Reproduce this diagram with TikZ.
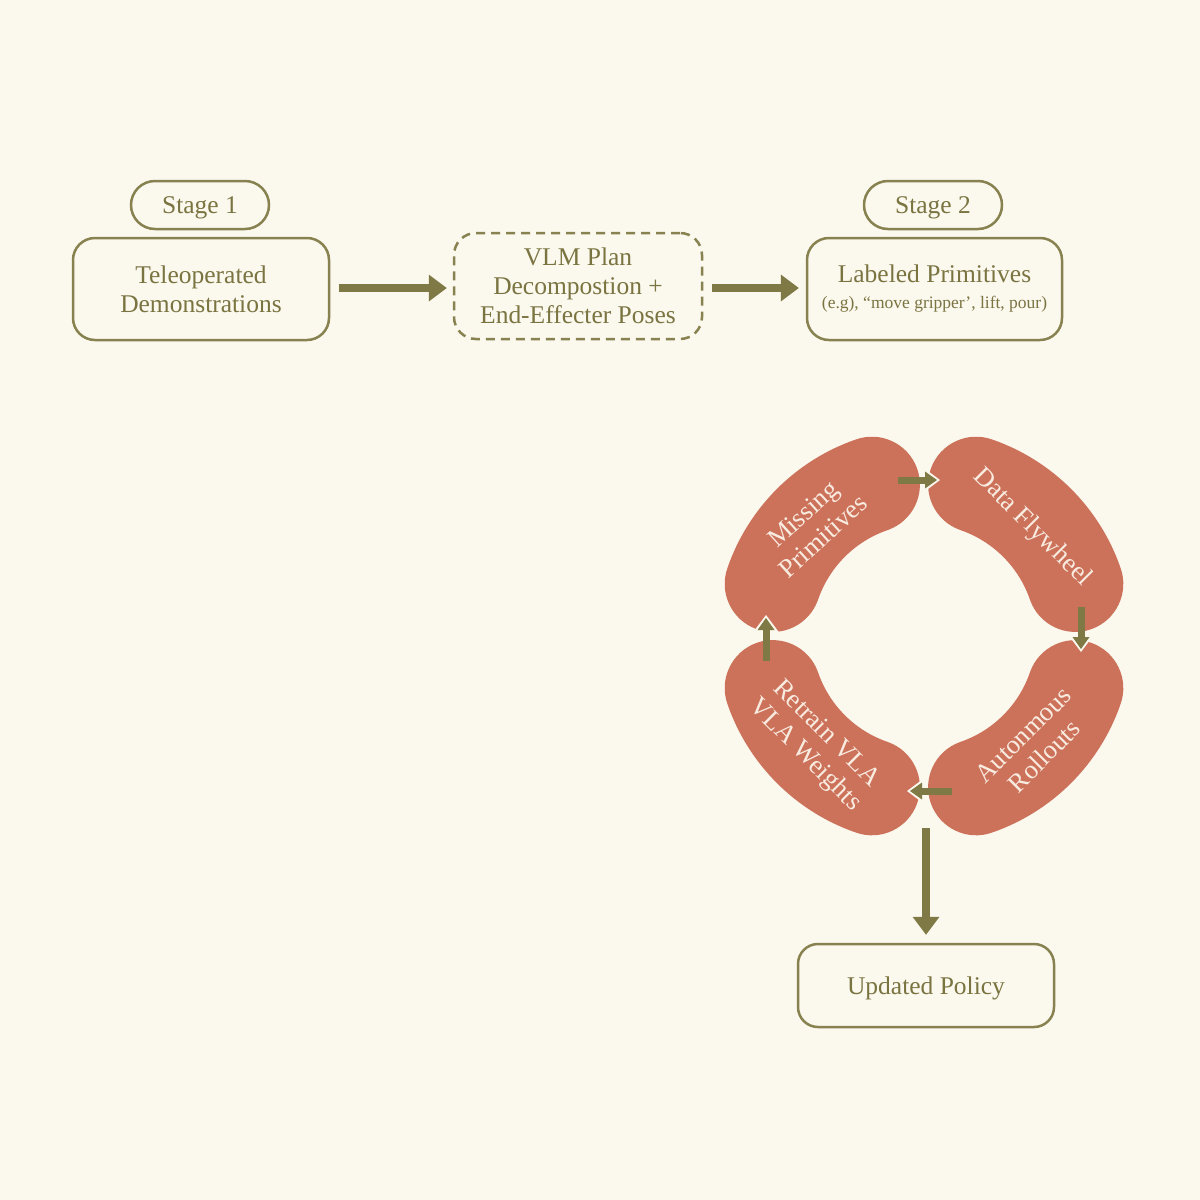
\documentclass[tikz,border=0pt]{standalone}
\usepackage{fontspec}
\setmainfont{Liberation Serif}
\usetikzlibrary{arrows.meta,calc}
\definecolor{bgc}{HTML}{FBF8EE}
\definecolor{olive}{HTML}{878250}
\definecolor{olivetext}{HTML}{7A7441}
\definecolor{arrowc}{HTML}{7F7A45}
\definecolor{beanc}{HTML}{CD725A}
\definecolor{beantext}{HTML}{F8EBE0}
\tikzset{
  box/.style={draw=olive, line width=2.5pt, rounded corners=22pt, align=center, text=olivetext, font=\fontsize{25.5}{29}\selectfont, inner sep=0pt},
  pill/.style={box, rounded corners=24pt, text height=23pt, text depth=5.6pt},
  dashbox/.style={box, dash pattern=on 9pt off 6pt},
  bigarrow/.style={arrowc, line width=8.5pt, -{Triangle[length=18pt,width=27pt,line width=0pt]}},
  cyclearrow/.style={arrowc, line width=7pt, -{Triangle[length=12pt,width=17pt,line width=0pt]}},
  halo/.style={bgc, line width=0.1pt, -{Triangle[length=18pt,width=27pt,line width=0pt]}},
  bean/.style={beanc, line width=96pt, line cap=round},
  beanlabel/.style={text=beantext, align=center, font=\fontsize{26.5}{30}\selectfont, inner sep=0pt}
}
\begin{document}
\begin{tikzpicture}[x=1pt,y=-1pt]
\useasboundingbox (0,0) rectangle (1200,1200);
\fill[bgc] (0,0) rectangle (1200,1200);

% top row
\node[pill, minimum width=138pt, minimum height=48pt] (stage1) at (200,205) {Stage 1};
\node[box, minimum width=256pt, minimum height=102pt] (tele) at (201,289) {Teleoperated\\Demonstrations};
\node[dashbox, minimum width=248pt, minimum height=106pt] (vlm) at (578,286) {VLM Plan\\Decompostion +\\End-Effecter Poses};
\node[pill, minimum width=138pt, minimum height=48pt] (stage2) at (933,205) {Stage 2};
\node[box, minimum width=255pt, minimum height=102pt] (labeled) at (934.5,289) {Labeled Primitives\\[-3pt]{\fontsize{17.5}{20}\selectfont (e.g), “move gripper’, lift, pour)}};
\node[box, minimum width=256pt, minimum height=83pt, rounded corners=20pt, text height=24pt, text depth=5.6pt] (updated) at (926,985.5) {Updated Policy};

\draw[bigarrow, shorten <=9pt, shorten >=6pt] (tele.east |- 0,288) -- (vlm.west |- 0,288);
\draw[bigarrow, shorten <=9pt, shorten >=7pt] (vlm.east |- 0,288) -- (labeled.west |- 0,288);

% cycle
\coordinate (C) at (924,636);
\draw[bean] (C) ++(199:160) arc[start angle=199, end angle=251, radius=160];
\draw[bean] (C) ++(289:160) arc[start angle=289, end angle=341, radius=160];
\draw[bean] (C) ++(19:160) arc[start angle=19, end angle=71, radius=160];
\draw[bean] (C) ++(109:160) arc[start angle=109, end angle=161, radius=160];

\node[beanlabel, rotate=42] (missing) at ($(C)+(225:157)$) {Missing\\Primitives};
\node[beanlabel, rotate=-45] (flywheel) at ($(C)+(315:153)$) {Data Flywheel};
\node[beanlabel, rotate=45] (auto) at ($(C)+(45:155)$) {Autonmous\\Rollouts};
\node[beanlabel, rotate=-45] (retrain) at ($(C)+(135:154)$) {Retrain VLA\\VLA Weights};

\coordinate (a1s) at (898,480); \coordinate (a1e) at (937,480);
\coordinate (h1s) at (934,480); \coordinate (h1e) at (940,480);
\coordinate (a2s) at (1081,607); \coordinate (a2e) at (1081,649);
\coordinate (h2s) at (1081,646); \coordinate (h2e) at (1081,652);
\coordinate (a3s) at (952,791); \coordinate (a3e) at (910,791);
\coordinate (h3s) at (913,791); \coordinate (h3e) at (907,791);
\coordinate (a4s) at (766,661); \coordinate (a4e) at (766,618);
\coordinate (h4s) at (766,621); \coordinate (h4e) at (766,615);

\draw[halo] (h1s) -- (h1e);
\draw[halo] (h2s) -- (h2e);
\draw[halo] (h3s) -- (h3e);
\draw[halo] (h4s) -- (h4e);
\draw[cyclearrow] (a1s) -- (a1e);
\draw[cyclearrow] (a2s) -- (a2e);
\draw[cyclearrow] (a3s) -- (a3e);
\draw[cyclearrow] (a4s) -- (a4e);

\coordinate (cyclebot) at (926,828);
\draw[bigarrow, line width=8pt, shorten >=8pt] (cyclebot) -- (updated.north);
\end{tikzpicture}
\end{document}
